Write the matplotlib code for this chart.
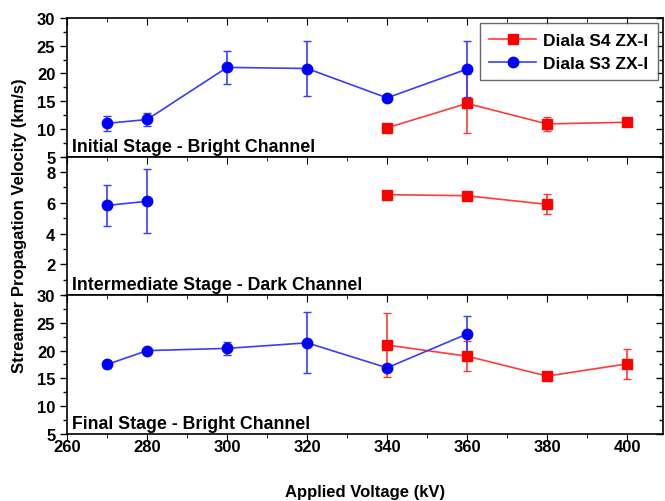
import matplotlib
matplotlib.use('Agg')
import matplotlib.pyplot as plt
from matplotlib.ticker import MultipleLocator

plt.rcParams['font.family'] = ['Liberation Sans', 'DejaVu Sans']
plt.rcParams['font.weight'] = 'bold'

# ---- data ----
# Initial stage - bright channel
s3_init_x = [270, 280, 300, 320, 340, 360]
s3_init_y = [11.0, 11.7, 21.1, 20.9, 15.6, 20.8]
s3_init_err = [1.4, 1.2, 3.0, 5.0, 0.6, 5.1]
s4_init_x = [340, 360, 380, 400]
s4_init_y = [10.2, 14.6, 10.9, 11.2]
s4_init_err = [0.0, 5.3, 1.3, 0.7]

# Intermediate stage - dark channel
s3_mid_x = [270, 280]
s3_mid_y = [5.83, 6.1]
s3_mid_err = [1.33, 2.08]
s4_mid_x = [340, 360, 380]
s4_mid_y = [6.53, 6.46, 5.9]
s4_mid_err = [0.0, 0.0, 0.65]

# Final stage - bright channel
s3_fin_x = [270, 280, 300, 320, 340, 360]
s3_fin_y = [17.5, 20.0, 20.4, 21.4, 16.9, 23.0]
s3_fin_err = [0.6, 0.0, 1.2, 5.5, 0.0, 3.2]
s4_fin_x = [340, 360, 380, 400]
s4_fin_y = [21.0, 19.0, 15.4, 17.6]
s4_fin_err = [5.7, 2.7, 0.3, 2.75]

series_names = ['Diala S4 ZX-I', 'Diala S3 ZX-I']
panel_titles = ['Initial Stage - Bright Channel',
                'Intermediate Stage - Dark Channel',
                'Final Stage - Bright Channel']

red_line = '#ff3b3b'
blue_line = '#3b3bff'

fig, axes = plt.subplots(3, 1, sharex=True, figsize=(6.65, 5.02), dpi=100)
fig.subplots_adjust(left=0.101, right=0.997, top=0.962, bottom=0.134, hspace=0)

datasets = [
    (s4_init_x, s4_init_y, s4_init_err, s3_init_x, s3_init_y, s3_init_err),
    (s4_mid_x, s4_mid_y, s4_mid_err, s3_mid_x, s3_mid_y, s3_mid_err),
    (s4_fin_x, s4_fin_y, s4_fin_err, s3_fin_x, s3_fin_y, s3_fin_err),
]

handles = None
for i, ax in enumerate(axes):
    x4, y4, e4, x3, y3, e3 = datasets[i]
    c4 = ax.errorbar(x4, y4, yerr=e4, color=red_line, lw=1.2, marker='s', ms=6.5,
                     mfc='red', mec='red', capsize=3, elinewidth=1.2)
    c3 = ax.errorbar(x3, y3, yerr=e3, color=blue_line, lw=1.2, marker='o', ms=7.5,
                     mfc='blue', mec='blue', capsize=3, elinewidth=1.2)
    if handles is None:
        handles = [c4[0], c3[0]]
    ax.text(0.008, 0.015, panel_titles[i], transform=ax.transAxes, fontsize=12.8,
            fontweight='bold', ha='left', va='bottom')
    ax.tick_params(axis='y', which='both', direction='out', left=True, right=True,
                   labelsize=12)
    ax.tick_params(axis='y', which='major', length=5, width=1)
    ax.tick_params(axis='y', which='minor', length=3, width=1)
    ax.tick_params(axis='x', which='both', direction='in', top=True, bottom=False,
                   labelsize=12)
    ax.tick_params(axis='x', which='major', length=5)
    ax.tick_params(axis='x', which='minor', length=3)
    for s in ax.spines.values():
        s.set_linewidth(1.2)

# y scales
for ax in (axes[0], axes[2]):
    ax.set_ylim(5, 30)
    ax.yaxis.set_major_locator(MultipleLocator(5))
    ax.yaxis.set_minor_locator(MultipleLocator(2.5))
axes[1].set_ylim(0, 9)
axes[1].set_yticks([2, 4, 6, 8])
axes[1].yaxis.set_minor_locator(MultipleLocator(1))

# right side ticks point inward
for ax in axes:
    for t in ax.yaxis.get_major_ticks() + ax.yaxis.get_minor_ticks():
        t.tick2line.set_marker(matplotlib.lines.TICKLEFT)

axes[2].set_xlim(260, 409)
axes[2].xaxis.set_major_locator(MultipleLocator(20))
axes[2].xaxis.set_minor_locator(MultipleLocator(10))
axes[2].tick_params(axis='x', which='both', bottom=True, labelbottom=True)
for t in axes[2].xaxis.get_major_ticks() + axes[2].xaxis.get_minor_ticks():
    t.tick1line.set_marker(matplotlib.lines.TICKDOWN)

axes[2].set_xlabel('Applied Voltage (kV)', fontsize=12, fontweight='bold', labelpad=22)
fig.text(0.03, 0.55, 'Streamer Propagation Velocity (km/s)', rotation=90,
         fontsize=12, fontweight='bold', ha='center', va='center')

leg = axes[0].legend(handles, series_names, loc='upper right', fontsize=12.5,
                     frameon=True, fancybox=False, edgecolor='#444444',
                     borderaxespad=0.3, handlelength=2.7, handletextpad=0.4,
                     borderpad=0.55, labelspacing=0.45)
leg.get_frame().set_linewidth(1)

plt.savefig('out.png', dpi=100)
